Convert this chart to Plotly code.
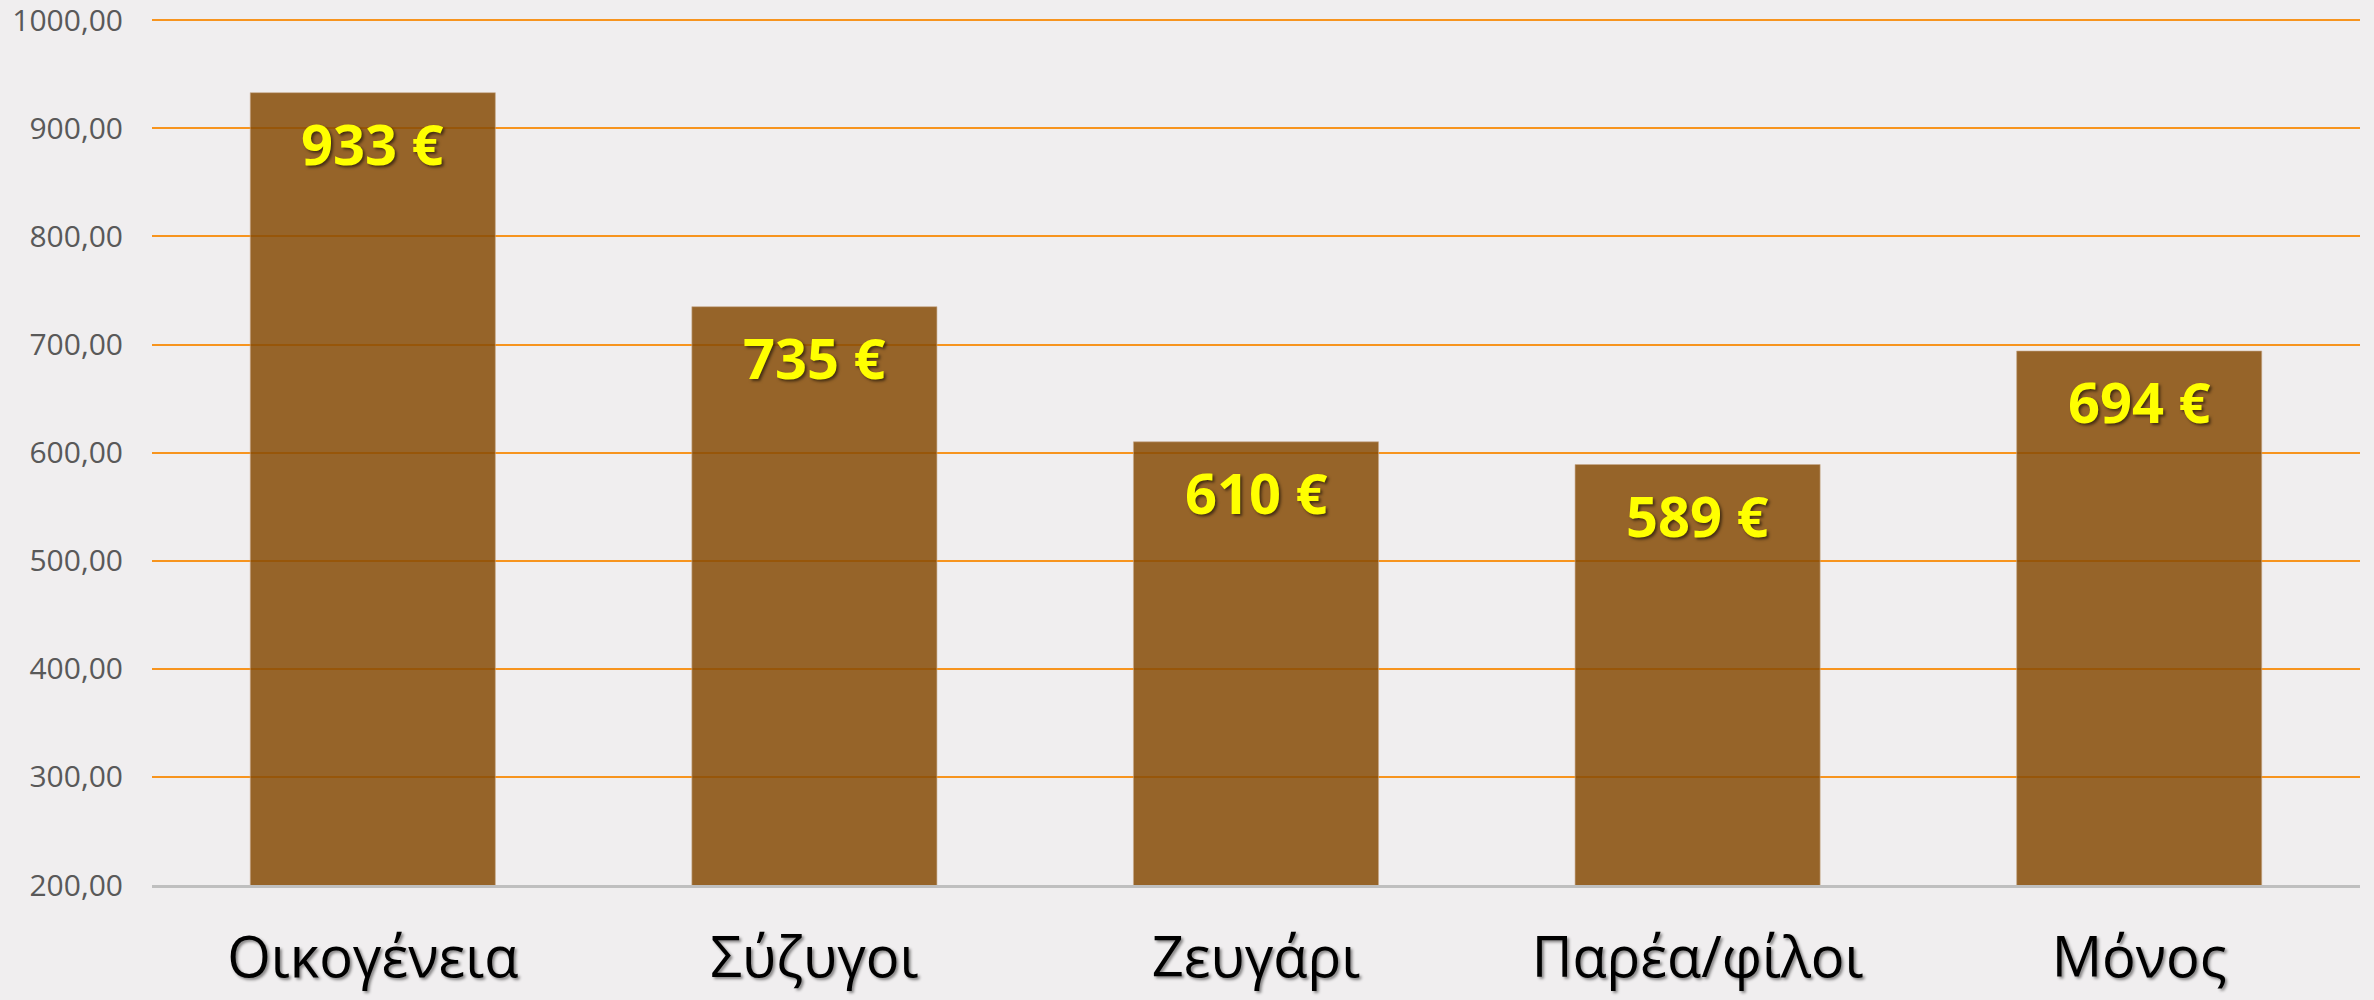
import plotly.graph_objects as go

# Average spend per traveller group
categories = ["Οικογένεια", "Σύζυγοι", "Ζευγάρι", "Παρέα/φίλοι", "Μόνος"]
spend = [933, 735, 610, 589, 694]
value_labels = ["933 €", "735 €", "610 €", "589 €", "694 €"]

y_ticks = [200, 300, 400, 500, 600, 700, 800, 900, 1000]
y_tick_text = ["200,00", "300,00", "400,00", "500,00", "600,00",
               "700,00", "800,00", "900,00", "1000,00"]

bg = "#F0EEEF"

fig = go.Figure(
    go.Bar(
        x=categories,
        y=spend,
        marker=dict(color="rgba(134,75,6,0.85)",
                    line=dict(color="rgba(200,170,140,0.6)", width=1)),
        hoverinfo="skip",
    )
)

# Value labels sit just inside the top of each bar
for cat, val, txt in zip(categories, spend, value_labels):
    fig.add_annotation(
        x=cat, y=val, text=txt, showarrow=False,
        yanchor="top", yshift=-10,
        font=dict(family="Open Sans", size=56, color="#FFFF00", weight="bold",
                  shadow="2px 2px 3px rgba(0,0,0,0.55)"),
    )

fig.update_layout(
    width=2374, height=1000,
    margin=dict(l=152, r=14, t=17, b=115),
    paper_bgcolor=bg, plot_bgcolor=bg,
    bargap=0.445,
    showlegend=False,
)

fig.update_yaxes(
    range=[200, 1003],
    tickvals=y_ticks, ticktext=y_tick_text,
    tickfont=dict(family="Open Sans", size=30, color="#595959"),
    ticklabelstandoff=28,
    ticklabeloverflow="allow",
    showgrid=True, gridcolor="#F7941E", gridwidth=2,
    zeroline=False, showline=False,
    automargin=False,
)

fig.update_xaxes(
    showline=True, linecolor="#BFBFBF", linewidth=3,
    tickfont=dict(family="Open Sans", size=56, color="#000000",
                  shadow="2px 2px 3px rgba(0,0,0,0.45)"),
    ticklabelstandoff=22,
    ticklabeloverflow="allow",
    showgrid=False,
    automargin=False,
)

fig.write_html("out.html")
